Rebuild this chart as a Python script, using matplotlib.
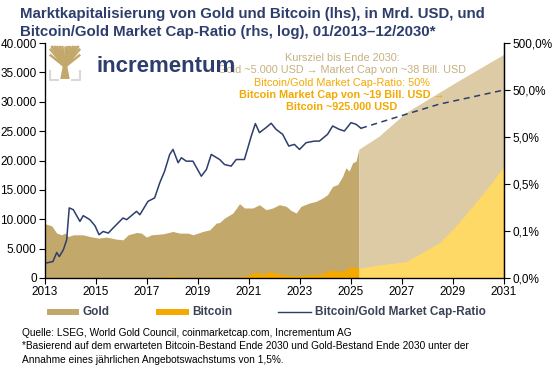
import numpy as np
import matplotlib
matplotlib.use('Agg')
import matplotlib.pyplot as plt
from matplotlib.lines import Line2D
from matplotlib.patches import Rectangle

plt.rcParams['font.family'] = ['Liberation Sans', 'DejaVu Sans']

# Gold-Marktkapitalisierung (Mrd. USD), historisch
gold_years = [2013.0, 2013.26, 2013.46, 2013.65, 2013.78, 2013.91, 2014.11, 2014.5, 2014.76,
              2015.09, 2015.41, 2015.8, 2016.06, 2016.26, 2016.59, 2016.78, 2016.98, 2017.17,
              2017.63, 2018.02, 2018.28, 2018.61, 2018.8, 2019.19, 2019.46, 2019.72, 2019.85,
              2020.04, 2020.37, 2020.63, 2020.82, 2021.15, 2021.41, 2021.67, 2021.93, 2022.19,
              2022.46, 2022.65, 2022.85, 2023.04, 2023.37, 2023.63, 2023.89, 2024.08, 2024.28,
              2024.48, 2024.67, 2024.8, 2024.93, 2025.06, 2025.2, 2025.3]
gold_cap = [9230, 8890, 7640, 7350, 7640, 7060, 7350, 7350, 7060,
            6790, 6960, 6610, 6500, 7350, 7750, 7640, 6960, 7350,
            7520, 7920, 7640, 7640, 7350, 7920, 8200, 9350, 9450,
            10200, 11060, 12650, 11920, 11920, 12480, 11620, 11920, 12480,
            12200, 11500, 11060, 12200, 12770, 13050, 13620, 14190, 15600,
            15900, 17300, 18750, 18200, 19600, 19900, 21800]

# Bitcoin-Marktkapitalisierung (Mrd. USD), historisch
btc_years = [2013.0, 2013.9, 2014.5, 2015.5, 2016.5, 2017.0, 2017.5, 2017.96, 2018.1, 2018.5,
             2019.0, 2019.5, 2020.0, 2020.25, 2020.75, 2021.0, 2021.3, 2021.5, 2021.85, 2022.0,
             2022.4, 2022.9, 2023.3, 2023.6, 2023.9, 2024.2, 2024.5, 2024.8, 2024.95, 2025.1, 2025.3]
btc_cap = [0.2, 12, 8, 4, 10, 16, 45, 320, 200, 110,
           65, 190, 130, 120, 200, 550, 1050, 650, 1150, 850,
           550, 320, 550, 560, 820, 1350, 1200, 1350, 1900, 1850, 1700]

# Prognose bis Ende 2030
proj_years_gold = [2025.3, 2026.1, 2027.15, 2029.1, 2031.0]
proj_gold = [21900, 24150, 28150, 33280, 38100]
proj_years_btc = [2025.3, 2026.1, 2027.15, 2028.45, 2029.1, 2029.76, 2030.41, 2031.0]
proj_btc = [1660, 2220, 2790, 5930, 8770, 12190, 15600, 19030]

# Bitcoin/Gold Market Cap-Ratio (%), rhs log
ratio_years = [2013.0, 2013.31, 2013.46, 2013.56, 2013.72, 2013.85, 2013.95, 2014.11, 2014.37,
               2014.5, 2014.76, 2014.96, 2015.12, 2015.28, 2015.48, 2015.67, 2016.06, 2016.2,
               2016.59, 2016.72, 2017.04, 2017.3, 2017.5, 2017.69, 2017.89, 2018.02, 2018.22,
               2018.35, 2018.54, 2018.8, 2019.13, 2019.33, 2019.52, 2019.85, 2020.04, 2020.3,
               2020.5, 2020.82, 2021.09, 2021.25, 2021.41, 2021.67, 2021.87, 2022.06, 2022.32,
               2022.56, 2022.78, 2022.98, 2023.24, 2023.56, 2023.76, 2024.08, 2024.28, 2024.54,
               2024.74, 2025.0, 2025.2, 2025.39]
ratio_pct = [0.0103, 0.0112, 0.0174, 0.0143, 0.0199, 0.0325, 0.155, 0.142, 0.080,
             0.106, 0.087, 0.0647, 0.0416, 0.0489, 0.0452, 0.0578, 0.0946, 0.087,
             0.131, 0.111, 0.214, 0.253, 0.53, 0.935, 2.13, 2.72, 1.42,
             1.81, 1.53, 1.53, 0.733, 1.02, 2.13, 1.66, 1.30, 1.20,
             1.66, 1.66, 5.24, 9.64, 6.19, 7.93, 9.8, 7.28, 5.70,
             3.21, 3.48, 2.72, 3.78, 4.09, 4.09, 5.70, 8.57, 7.28,
             6.70, 10.1, 9.31, 7.66]
proj_ratio_years = [2025.39, 2027.15, 2028.45, 2031.0]
proj_ratio = [7.66, 15.2, 24.9, 50.0]

navy = '#2d3d6c'
gold_c = '#c3a86c'
gold_light = '#dccba5'
btc_c = '#f3a900'
btc_light = '#ffd966'
tan_text = '#c6b07e'
legend_text = '#3b4256'

fig = plt.figure(figsize=(5.58, 3.68), dpi=100)
ax = fig.add_axes([45 / 558, 1 - 278 / 368, 459 / 558, 235 / 368])

ax.fill_between(gold_years, gold_cap, color=gold_c, lw=0)
ax.fill_between(proj_years_gold, proj_gold, color=gold_light, lw=0)
ax.fill_between(proj_years_btc, proj_btc, color=btc_light, lw=0)
ax.fill_between(btc_years, btc_cap, color=btc_c, lw=0)

ax.set_xlim(2013, 2031)
ax.set_ylim(0, 40000)
ax.set_xticks(range(2013, 2032, 2))
ax.set_yticks(range(0, 40001, 5000))
ax.set_yticklabels([f'{v:,}'.replace(',', '.') for v in range(0, 40001, 5000)])
ax.tick_params(labelsize=8.5, length=4, width=0.8, pad=2, colors='black')
ax.spines['top'].set_visible(False)
for s in ['left', 'right', 'bottom']:
    ax.spines[s].set_linewidth(0.9)

ax2 = ax.twinx()
ax2.plot(ratio_years, ratio_pct, color=navy, lw=1.1)
ax2.plot(proj_ratio_years, proj_ratio, color=navy, lw=1.1, dashes=(4, 3))
ax2.set_yscale('log')
ax2.set_ylim(0.005, 500)
ax2.set_yticks([0.005, 0.05, 0.5, 5, 50, 500])
ax2.set_yticklabels(['0,0%', '0,1%', '0,5%', '5,0%', '50,0%', '500,0%'])
ax2.minorticks_off()
ax2.tick_params(labelsize=8.5, length=4, width=0.8, pad=2)
ax2.spines['top'].set_visible(False)
ax2.spines['right'].set_linewidth(0.9)

# Titel
fig.text(20 / 558, 1 - 14 / 368, 'Marktkapitalisierung von Gold und Bitcoin (lhs), in Mrd. USD, und',
         fontsize=10.8, fontweight='bold', color=navy, va='center')
fig.text(20 / 558, 1 - 32 / 368, 'Bitcoin/Gold Market Cap-Ratio (rhs, log), 01/2013\u201312/2030*',
         fontsize=10.8, fontweight='bold', color=navy, va='center')

# Kursziel-Text
cx = 342 / 558
lines = [('Kursziel bis Ende 2030:', tan_text, 'normal', 58),
         ('Gold ~5.000 USD \u2192 Market Cap von ~38 Bill. USD', tan_text, 'normal', 70),
         ('Bitcoin/Gold Market Cap-Ratio: 50%', btc_c, 'normal', 83),
         ('Bitcoin Market Cap von ~19 Bill. USD \u2192', btc_c, 'bold', 95),
         ('Bitcoin ~925.000 USD', btc_c, 'bold', 107.5)]
for txt, col, fw, yy in lines:
    fig.text(cx, 1 - yy / 368, txt, fontsize=7.8, color=col, fontweight=fw,
             ha='center', va='center')

# Logo
lax = fig.add_axes([48 / 558, 1 - 82 / 368, 34 / 558, 38 / 368])
lax.set_xlim(0, 1)
lax.set_ylim(0, 1)
lax.axis('off')
for xe in np.linspace(0.1, 0.9, 11):
    lax.plot([0.5, xe], [0.4, 0.95], color=gold_c, lw=1.8, solid_capstyle='butt')
for ye in [0.7, 0.85]:
    lax.plot([0.5, 0.08], [0.4, ye], color=gold_c, lw=1.8)
    lax.plot([0.5, 0.92], [0.4, ye], color=gold_c, lw=1.8)
lax.fill([0.36, 0.64, 0.56, 0.44], [0.08, 0.08, 0.45, 0.45], color=gold_c, lw=0)
lax.plot([0.05, 0.05, 0.3], [0.28, 0.06, 0.06], color='#d9d9d9', lw=1.5)
lax.plot([0.95, 0.95, 0.7], [0.28, 0.06, 0.06], color='#d9d9d9', lw=1.5)
fig.text(97 / 558, 1 - 66 / 368, 'incrementum', fontsize=16, fontweight='bold',
         color=navy, va='center')

# Legende
ly = 1 - 312 / 368
fig.add_artist(Rectangle((47 / 558, 1 - 315 / 368), 32 / 558, 6 / 368,
                         transform=fig.transFigure, color=gold_c, lw=0))
fig.add_artist(Rectangle((156 / 558, 1 - 315 / 368), 33 / 558, 6 / 368,
                         transform=fig.transFigure, color=btc_c, lw=0))
fig.add_artist(Line2D([278 / 558, 311 / 558], [ly, ly], transform=fig.transFigure,
                      color=navy, lw=1))
for x0, t in [(82.5, 'Gold'), (192, 'Bitcoin'), (315, 'Bitcoin/Gold Market Cap-Ratio')]:
    fig.text(x0 / 558, ly, t, fontsize=8.5, fontweight='bold', color=legend_text, va='center')

# Quelle
foot = ['Quelle: LSEG, World Gold Council, coinmarketcap.com, Incrementum AG',
        '*Basierend auf dem erwarteten Bitcoin-Bestand Ende 2030 und Gold-Bestand Ende 2030 unter der',
        'Annahme eines j\u00e4hrlichen Angebotswachstums von 1,5%.']
for i, t in enumerate(foot):
    fig.text(22 / 558, 1 - (333 + 13.3 * i) / 368, t, fontsize=7.3, color='black', va='center')

fig.savefig('out.png', dpi=100)
